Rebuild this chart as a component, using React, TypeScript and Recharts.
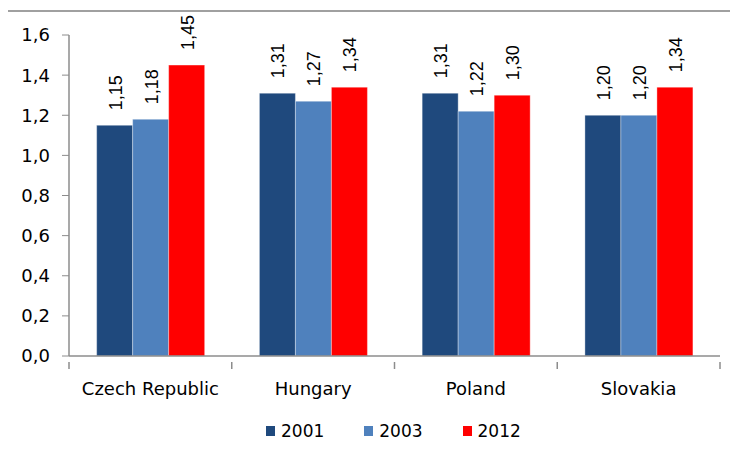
import React from 'react';
import { BarChart, Bar, XAxis, YAxis, Legend, LabelList } from 'recharts';

const countries = ['Czech Republic', 'Hungary', 'Poland', 'Slovakia'];
const values2001 = [1.15, 1.31, 1.31, 1.2];
const values2003 = [1.18, 1.27, 1.22, 1.2];
const values2012 = [1.45, 1.34, 1.3, 1.34];
const yTicks = [0, 0.2, 0.4, 0.6, 0.8, 1.0, 1.2, 1.4, 1.6];

const series = [
  { key: 'y2001', name: '2001', color: '#1F497D' },
  { key: 'y2003', name: '2003', color: '#4F81BD' },
  { key: 'y2012', name: '2012', color: '#FF0000' },
];

const data = countries.map((c, i) => ({
  country: c,
  y2001: values2001[i],
  y2003: values2003[i],
  y2012: values2012[i],
}));

const fmt = (v: number) => v.toFixed(2).replace('.', ',');
const fmtTick = (v: number) => v.toFixed(1).replace('.', ',');

const axisColor = '#8c8c8c';
const sans = 'DejaVu Sans, sans-serif';

const renderLabel = (props: any) => {
  const { x, y, width, value } = props;
  const cx = x + width / 2 + 7;
  const ty = y - 15;
  return (
    <text
      x={cx}
      y={ty}
      transform={`rotate(-90 ${cx} ${ty})`}
      textAnchor="start"
      fontSize={18}
      fontFamily="Liberation Sans, Arial, sans-serif"
      fill="#000"
    >
      {fmt(value)}
    </text>
  );
};

// category label at the centre, tick marks at the category boundaries (Excel style)
const CategoryTick = (props: any) => {
  const { x, y, payload, visibleTicksCount } = props;
  const half = payload && payload.offset ? payload.offset : 81.4;
  const axisY = y - 20;
  const isLast = payload.index === (visibleTicksCount || countries.length) - 1;
  return (
    <g>
      <line x1={x - half} x2={x - half} y1={axisY} y2={axisY + 7} stroke={axisColor} strokeWidth={1.5} />
      {isLast && (
        <line x1={x + half} x2={x + half} y1={axisY} y2={axisY + 7} stroke={axisColor} strokeWidth={1.5} />
      )}
      <text x={x} y={y} dy="0.71em" textAnchor="middle" fill="#000" fontSize={18} fontFamily={sans}>
        {payload.value}
      </text>
    </g>
  );
};

const renderLegend = (props: any) => {
  const { payload } = props;
  return (
    <div style={{ display: 'flex', alignItems: 'center', fontFamily: sans, fontSize: 17 }}>
      {(payload || []).map((p: any, i: number) => (
        <div key={i} style={{ display: 'flex', alignItems: 'center', marginRight: 40 }}>
          <span style={{ width: 9, height: 10, background: p.color, display: 'inline-block', marginRight: 6 }} />
          <span style={{ color: '#000' }}>{p.value}</span>
        </div>
      ))}
    </div>
  );
};

export default function App() {
  return (
    <div style={{ position: 'relative', width: 738, height: 452, margin: -8, overflow: 'hidden', background: '#fff' }}>
      <div
        style={{
          position: 'absolute',
          left: 7,
          top: 10,
          width: 760,
          height: 470,
          borderTop: '2px solid #a0a0a0',
          borderLeft: '1.5px solid #a0a0a0',
        }}
      />
      <div style={{ position: 'absolute', left: 0, top: 0 }}>
        <BarChart
          width={738}
          height={452}
          data={data}
          margin={{ top: 35, right: 18, left: 8, bottom: 66 }}
          barCategoryGap="17%"
          barGap={0}
        >
          <XAxis
            dataKey="country"
            tickLine={false}
            axisLine={{ stroke: axisColor, strokeWidth: 1.5 }}
            tickMargin={20}
            height={30}
            tick={<CategoryTick />}
            interval={0}
          />
          <YAxis
            width={61}
            domain={[0, 1.6]}
            ticks={yTicks}
            tickFormatter={fmtTick}
            tickSize={7}
            tickMargin={12}
            axisLine={{ stroke: axisColor, strokeWidth: 1.5 }}
            tickLine={{ stroke: axisColor }}
            tick={{ fill: '#000', fontSize: 18, fontFamily: sans }}
            interval={0}
          />
          <Legend
            verticalAlign="middle"
            align="center"
            content={renderLegend}
            wrapperStyle={{ top: 421, left: 266, width: 320 }}
          />
          {series.map((s) => (
            <Bar
              key={s.key}
              dataKey={s.key}
              name={s.name}
              fill={s.color}
              stroke="#ffffff"
              strokeOpacity={0.35}
              isAnimationActive={false}
            >
              <LabelList dataKey={s.key} content={renderLabel} />
            </Bar>
          ))}
        </BarChart>
      </div>
    </div>
  );
}
